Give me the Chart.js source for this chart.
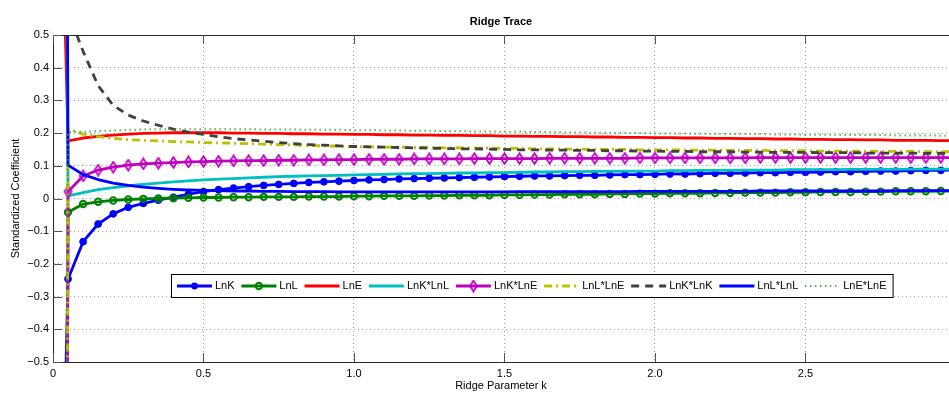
<!DOCTYPE html>
<html>
<head>
<meta charset="utf-8">
<script src="https://cdn.jsdelivr.net/npm/chart.js@4.4.1/dist/chart.umd.min.js"></script>
<style>
  html, body { margin: 0; padding: 0; background: #fff; }
  #wrap { width: 949px; height: 395px; position: relative; }
</style>
</head>
<body>
<div id="wrap"><canvas id="c" width="949" height="395"></canvas></div>
<script>
// ---------------- data ----------------
const kValues = [0,0.05,0.1,0.15,0.2,0.25,0.3,0.35,0.4,0.45,0.5,0.55,0.6,0.65,0.7,0.75,0.8,0.85,0.9,0.95,1,1.05,1.1,1.15,1.2,1.25,1.3,1.35,1.4,1.45,1.5,1.55,1.6,1.65,1.7,1.75,1.8,1.85,1.9,1.95,2,2.05,2.1,2.15,2.2,2.25,2.3,2.35,2.4,2.45,2.5,2.55,2.6,2.65,2.7,2.75,2.8,2.85,2.9,2.95,3];

const seriesNames = ['LnK','LnL','LnE','LnK*LnL','LnK*LnE','LnL*LnE','LnK*LnK','LnL*LnL','LnE*LnE'];

const lnK = [-2.2,-0.246,-0.132,-0.078,-0.047,-0.027,-0.015,-0.005,0.004,0.013,0.021,0.027,0.032,0.036,0.040,0.043,0.046,0.049,0.051,0.053,0.055,0.057,0.058,0.060,0.061,0.062,0.063,0.064,0.065,0.066,0.067,0.068,0.069,0.069,0.070,0.071,0.071,0.072,0.073,0.073,0.074,0.075,0.075,0.076,0.077,0.077,0.078,0.079,0.079,0.080,0.080,0.081,0.082,0.082,0.083,0.084,0.084,0.085,0.086,0.086,0.087];
const lnL = [-12,-0.042,-0.017,-0.010,-0.006,-0.003,-0.001,0.000,0.001,0.002,0.003,0.003,0.004,0.004,0.005,0.005,0.005,0.006,0.006,0.006,0.007,0.007,0.008,0.008,0.008,0.009,0.009,0.010,0.010,0.010,0.011,0.011,0.012,0.012,0.013,0.013,0.013,0.014,0.014,0.015,0.015,0.016,0.016,0.016,0.017,0.017,0.018,0.018,0.018,0.019,0.019,0.020,0.020,0.020,0.021,0.021,0.022,0.022,0.022,0.023,0.023];
const lnE = [2.0,0.176,0.185,0.190,0.194,0.197,0.199,0.200,0.201,0.201,0.201,0.201,0.200,0.200,0.199,0.199,0.198,0.198,0.197,0.197,0.196,0.196,0.195,0.195,0.194,0.194,0.193,0.193,0.192,0.192,0.191,0.191,0.190,0.190,0.189,0.189,0.188,0.188,0.187,0.187,0.186,0.186,0.185,0.185,0.184,0.184,0.183,0.183,0.182,0.182,0.181,0.181,0.180,0.180,0.179,0.179,0.178,0.178,0.178,0.177,0.177];
const lnKlnL = [8,0.008,0.018,0.027,0.033,0.039,0.043,0.047,0.051,0.054,0.057,0.059,0.061,0.063,0.065,0.067,0.068,0.069,0.070,0.071,0.072,0.073,0.074,0.075,0.076,0.076,0.077,0.078,0.078,0.079,0.079,0.080,0.081,0.081,0.082,0.082,0.083,0.083,0.084,0.084,0.084,0.085,0.085,0.086,0.086,0.086,0.087,0.087,0.087,0.088,0.088,0.088,0.088,0.089,0.089,0.089,0.089,0.090,0.090,0.090,0.090];
const lnKlnE = [-15,0.021,0.069,0.087,0.096,0.102,0.106,0.108,0.110,0.112,0.113,0.114,0.115,0.116,0.116,0.117,0.117,0.118,0.118,0.119,0.119,0.120,0.120,0.120,0.121,0.121,0.121,0.121,0.122,0.122,0.122,0.122,0.122,0.123,0.123,0.123,0.123,0.123,0.123,0.124,0.124,0.124,0.124,0.124,0.124,0.124,0.124,0.125,0.125,0.125,0.125,0.125,0.125,0.125,0.125,0.125,0.125,0.125,0.125,0.125,0.125];
const lnLlnE = [-15,0.213,0.197,0.189,0.184,0.180,0.178,0.176,0.174,0.173,0.171,0.170,0.169,0.168,0.166,0.165,0.164,0.162,0.161,0.160,0.159,0.158,0.157,0.157,0.156,0.156,0.155,0.155,0.154,0.154,0.153,0.153,0.152,0.152,0.151,0.151,0.150,0.150,0.150,0.149,0.149,0.149,0.148,0.148,0.148,0.147,0.147,0.147,0.146,0.146,0.146,0.145,0.145,0.145,0.145,0.144,0.144,0.144,0.143,0.143,0.143];
const lnKlnK = [10,0.570,0.450,0.345,0.285,0.255,0.237,0.224,0.212,0.203,0.196,0.189,0.183,0.179,0.175,0.171,0.168,0.165,0.163,0.161,0.159,0.158,0.157,0.156,0.155,0.154,0.153,0.152,0.152,0.151,0.150,0.149,0.149,0.148,0.148,0.147,0.147,0.146,0.146,0.145,0.145,0.144,0.144,0.143,0.143,0.143,0.142,0.142,0.141,0.141,0.141,0.140,0.140,0.140,0.139,0.139,0.139,0.139,0.138,0.138,0.138];
const lnLlnL = [12,0.102,0.073,0.058,0.047,0.040,0.035,0.031,0.028,0.026,0.025,0.024,0.023,0.023,0.022,0.022,0.021,0.021,0.021,0.020,0.020,0.020,0.020,0.020,0.020,0.020,0.020,0.020,0.020,0.020,0.020,0.021,0.021,0.021,0.021,0.021,0.021,0.021,0.021,0.022,0.022,0.022,0.022,0.022,0.022,0.022,0.022,0.023,0.023,0.023,0.023,0.023,0.023,0.023,0.023,0.023,0.024,0.024,0.024,0.024,0.024];
const lnElnE = [-6,0.203,0.204,0.206,0.208,0.210,0.211,0.212,0.212,0.212,0.212,0.212,0.212,0.212,0.211,0.211,0.211,0.210,0.210,0.210,0.209,0.209,0.208,0.208,0.207,0.207,0.206,0.206,0.205,0.205,0.204,0.204,0.203,0.203,0.202,0.202,0.201,0.201,0.200,0.200,0.199,0.199,0.199,0.198,0.198,0.197,0.197,0.197,0.196,0.196,0.195,0.195,0.195,0.194,0.194,0.194,0.193,0.193,0.193,0.192,0.192];

const xTickStep = 0.5;
const yTickStep = 0.1;
// --------------------------------------

const FONT = '"Liberation Sans", Arial, Helvetica, sans-serif';
Chart.defaults.font.family = FONT;
Chart.defaults.font.size = 11;
Chart.defaults.color = '#000';

function makeDiamond(color) {
  const c = document.createElement('canvas');
  c.width = 11; c.height = 13;
  const g = c.getContext('2d');
  g.strokeStyle = color; g.lineWidth = 1.8;
  g.beginPath();
  g.moveTo(5.5, 1.2); g.lineTo(9.0, 6.5); g.lineTo(5.5, 11.8); g.lineTo(2.0, 6.5);
  g.closePath(); g.stroke();
  return c;
}

const seriesValues = [lnK, lnL, lnE, lnKlnL, lnKlnE, lnLlnE, lnKlnK, lnLlnL, lnElnE];
const styles = [
  {color:'#0000ff', width:2.8, dash:[], marker:'dot'},
  {color:'#008000', width:2.8, dash:[], marker:'ring'},
  {color:'#ff0000', width:2.8, dash:[], marker:null},
  {color:'#00bfbf', width:2.8, dash:[], marker:null},
  {color:'#bf00bf', width:2.8, dash:[], marker:'diamond'},
  {color:'#bfbf00', width:2.8, dash:[8,4,2,4], marker:null},
  {color:'#404040', width:2.8, dash:[8,6], marker:null},
  {color:'#0000ff', width:2.8, dash:[], marker:null},
  {color:'rgb(40,165,40)', width:2, dash:[1.2,3.8], marker:null}
];
const diamondImg = makeDiamond('#bf00bf');

const datasets = seriesNames.map((name, i) => {
  const s = styles[i];
  const ds = {
    label: name,
    data: kValues.map((k, j) => ({x: k, y: seriesValues[i][j]})),
    borderColor: s.color,
    backgroundColor: s.color,
    borderWidth: s.width,
    borderDash: s.dash,
    borderCapStyle: 'butt',
    borderJoinStyle: 'round',
    tension: 0,
    fill: false,
    order: -i,
    clip: 0,
    pointRadius: 0,
    pointHoverRadius: 0,
    pointHitRadius: 0
  };
  if (s.marker === 'dot') {
    Object.assign(ds, {pointStyle:'circle', pointRadius:3.4, pointHoverRadius:3.4, pointBackgroundColor:s.color, pointBorderColor:s.color, pointBorderWidth:1});
  } else if (s.marker === 'ring') {
    Object.assign(ds, {pointStyle:'circle', pointRadius:3.2, pointHoverRadius:3.2, pointBackgroundColor:'rgba(0,0,0,0)', pointBorderColor:s.color, pointBorderWidth:2});
  } else if (s.marker === 'diamond') {
    Object.assign(ds, {pointStyle:diamondImg, pointRadius:5, pointHoverRadius:5});
  }
  return ds;
});

const axesBoxPlugin = {
  id: 'axesBox',
  afterDatasetsDraw(chart) {
    const {ctx, chartArea: a, scales: {x, y}} = chart;
    ctx.save();
    ctx.lineWidth = 1;
    ctx.strokeStyle = '#262626';
    ctx.beginPath();
    ctx.moveTo(a.left, Math.round(a.top) + 0.5);
    ctx.lineTo(a.right, Math.round(a.top) + 0.5);
    ctx.stroke();
    ctx.strokeStyle = '#555';
    ctx.beginPath();
    y.ticks.forEach(t => {
      const py = Math.round(y.getPixelForValue(t.value)) + 0.5;
      ctx.moveTo(a.left, py); ctx.lineTo(a.left + 9, py);
    });
    x.ticks.forEach(t => {
      const px = Math.round(x.getPixelForValue(t.value)) + 0.5;
      ctx.moveTo(px, a.bottom); ctx.lineTo(px, a.bottom - 9);
      ctx.moveTo(px, a.top); ctx.lineTo(px, a.top + 9);
    });
    ctx.stroke();
    ctx.restore();
  }
};

const boxLegendPlugin = {
  id: 'boxLegend',
  afterDraw(chart) {
    const ctx = chart.ctx;
    const x0 = 171, y0 = 274, h = 23;
    const padL = 6, sample = 35, gapA = 3, gapB = 6.8, padR = 6;
    ctx.save();
    ctx.font = '11px ' + FONT;
    const widths = chart.data.datasets.map(d => ctx.measureText(d.label).width);
    let total = padL + padR - gapB;
    widths.forEach(w => { total += sample + gapA + w + gapB; });
    ctx.fillStyle = '#fff';
    ctx.fillRect(x0, y0, total, h);
    ctx.strokeStyle = '#000';
    ctx.lineWidth = 1;
    ctx.strokeRect(x0 + 0.5, y0 + 0.5, total, h);
    const cy = y0 + h / 2 + 0.5;
    let cx = x0 + padL;
    chart.data.datasets.forEach((d, i) => {
      const s = styles[i];
      ctx.save();
      ctx.strokeStyle = s.color;
      ctx.lineWidth = s.width;
      ctx.setLineDash(s.dash);
      ctx.lineCap = 'butt';
      ctx.beginPath();
      ctx.moveTo(cx, cy); ctx.lineTo(cx + sample, cy);
      ctx.stroke();
      ctx.setLineDash([]);
      const mx = cx + sample / 2;
      if (s.marker === 'dot') {
        ctx.fillStyle = s.color;
        ctx.beginPath(); ctx.arc(mx, cy, 3.4, 0, Math.PI * 2); ctx.fill();
      } else if (s.marker === 'ring') {
        ctx.lineWidth = 2;
        ctx.beginPath(); ctx.arc(mx, cy, 3.2, 0, Math.PI * 2); ctx.stroke();
      } else if (s.marker === 'diamond') {
        ctx.drawImage(diamondImg, mx - diamondImg.width / 2, cy - diamondImg.height / 2);
      }
      ctx.restore();
      ctx.fillStyle = '#000';
      ctx.textBaseline = 'middle';
      ctx.textAlign = 'left';
      ctx.fillText(d.label, cx + sample + gapA, cy);
      cx += sample + gapA + widths[i] + gapB;
    });
    ctx.restore();
  }
};

const fmt = v => {
  const r = Math.round(v * 10) / 10;
  return (Object.is(r, -0) ? 0 : r).toString().replace('-', '\u2212');
};

new Chart(document.getElementById('c'), {
  type: 'line',
  data: { datasets },
  options: {
    responsive: false,
    animation: false,
    devicePixelRatio: 1,
    events: [],
    layout: { padding: 0, autoPadding: false },
    plugins: {
      legend: { display: false },
      tooltip: { enabled: false },
      title: {
        display: true,
        fullSize: false,
        text: 'Ridge Trace',
        font: { size: 11, weight: 'bold' },
        color: '#000',
        padding: { top: 15, bottom: 6.8 }
      }
    },
    scales: {
      x: {
        type: 'linear',
        min: 0,
        max: 2.977,
        ticks: { stepSize: xTickStep, includeBounds: false, padding: 5, color: '#000', maxRotation: 0, autoSkip: false },
        grid: { color: 'rgba(0,0,0,0.35)', lineWidth: 1, drawTicks: false },
        border: { display: true, color: '#262626', width: 1, dash: [1, 3] },
        title: { display: true, text: 'Ridge Parameter k', font: { size: 11 }, color: '#000', padding: { top: 0, bottom: 2.6 } },
        afterFit(s) { s.height = 33; s.paddingLeft = 0; s.paddingRight = 0; }
      },
      y: {
        type: 'linear',
        min: -0.5,
        max: 0.5,
        ticks: { stepSize: yTickStep, padding: 4, color: '#000', callback: fmt, autoSkip: false },
        grid: { color: 'rgba(0,0,0,0.35)', lineWidth: 1, drawTicks: false },
        border: { display: true, color: '#262626', width: 1, dash: [1, 3] },
        title: { display: true, text: 'Standardized Coefficient', font: { size: 11 }, color: '#000', padding: { top: 9.4, bottom: 0 } },
        afterFit(s) { s.width = 53; }
      }
    }
  },
  plugins: [axesBoxPlugin, boxLegendPlugin]
});
</script>
</body>
</html>
